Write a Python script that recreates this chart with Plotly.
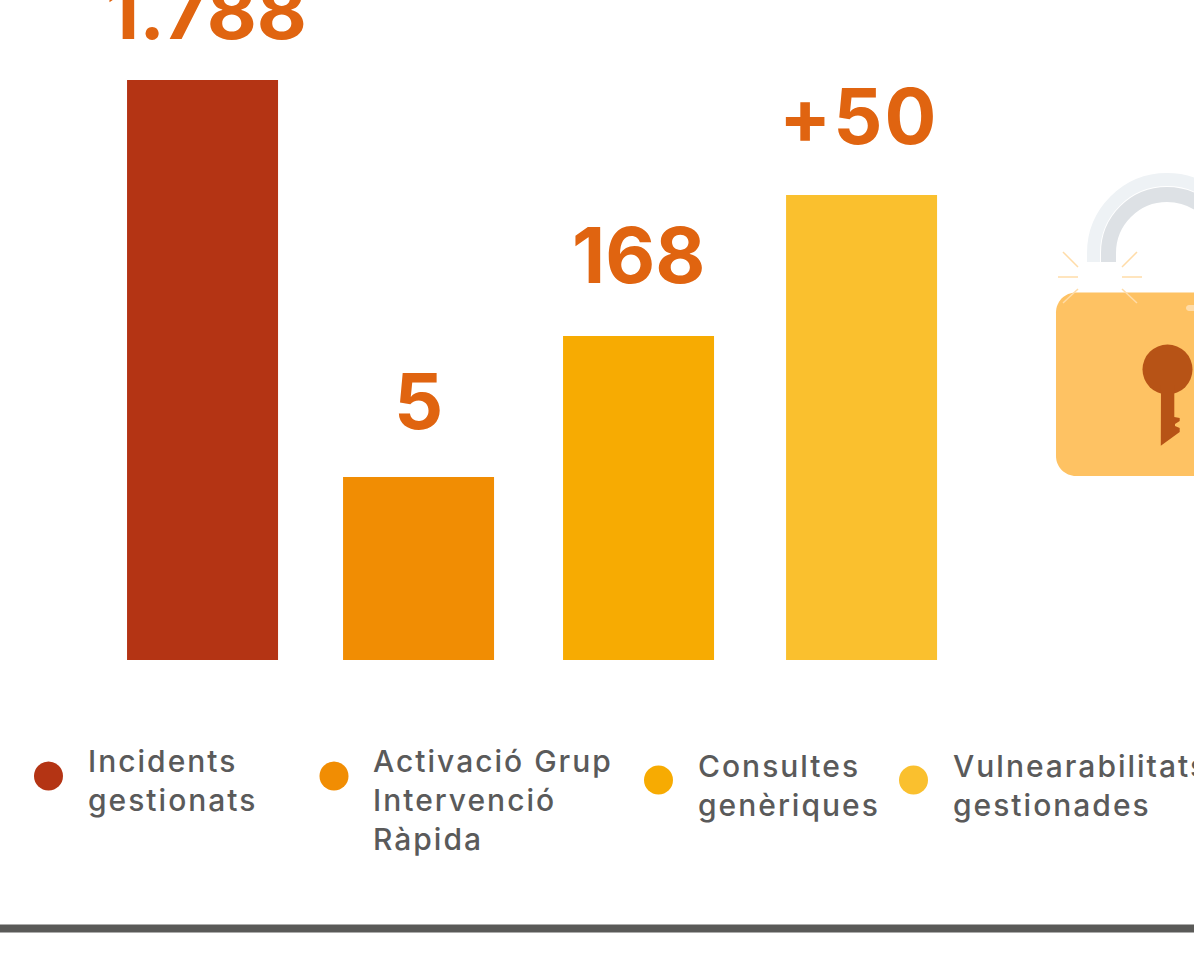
import plotly.graph_objects as go

# ---- data ----
categories = ["Incidents gestionats", "Activació Grup Intervenció Ràpida", "Consultes genèriques", "Vulnearabilitats gestionades"]
bar_heights = [580, 183, 324, 465]
value_labels = ["1.788", "5", "168", "+50"]
legend_labels = ["Incidents<br>gestionats", "Activació Grup<br>Intervenció<br>Ràpida", "Consultes<br>genèriques", "Vulnearabilitats<br>gestionades"]
bar_colors = ["#B43414", "#F18D03", "#F7AB02", "#FAC02E"]

W, H = 1194, 960
LABEL_COLOR = "#E06410"
TEXT_COLOR = "#5A5A5A"
FONT = "Inter"


def px(x):
    return x / W


def py(y):
    return 1 - y / H


def pt(x, y):
    return f"{px(x):.5f},{py(y):.5f}"


def path_shape(d, fill=None, line=None, width=0):
    s = dict(type="path", xref="paper", yref="paper", path=d, layer="above",
             line=dict(color=line or "rgba(0,0,0,0)", width=width))
    if fill:
        s["fillcolor"] = fill
    return s


def arch(cx, cy, r, bottom):
    k = 0.5523 * r
    return (f"M{pt(cx - r, bottom)} L{pt(cx - r, cy)} "
            f"C{pt(cx - r, cy - k)} {pt(cx - k, cy - r)} {pt(cx, cy - r)} "
            f"C{pt(cx + k, cy - r)} {pt(cx + r, cy - k)} {pt(cx + r, cy)} L{pt(cx + r, bottom)}")


def circle(cx, cy, r, color):
    return dict(type="circle", xref="paper", yref="paper", x0=px(cx - r), x1=px(cx + r),
                y0=py(cy + r), y1=py(cy - r), fillcolor=color, line=dict(width=0), layer="above")


def rrect(x0, y0, x1, y1, r):
    k = 0.4477 * r
    return (f"M{pt(x0 + r, y0)} L{pt(x1 - r, y0)} C{pt(x1 - k, y0)} {pt(x1, y0 + k)} {pt(x1, y0 + r)} "
            f"L{pt(x1, y1 - r)} C{pt(x1, y1 - k)} {pt(x1 - k, y1)} {pt(x1 - r, y1)} "
            f"L{pt(x0 + r, y1)} C{pt(x0 + k, y1)} {pt(x0, y1 - k)} {pt(x0, y1 - r)} "
            f"L{pt(x0, y0 + r)} C{pt(x0, y0 + k)} {pt(x0 + k, y0)} {pt(x0 + r, y0)} Z")


bar_width = 151 / 219.2
nudges = [0.005, -0.0096, -0.006, 0.0114]

fig = go.Figure(go.Bar(
    x=categories, y=bar_heights,
    marker=dict(color=bar_colors, line=dict(width=0)),
    width=bar_width,
    offset=[-bar_width / 2 + n for n in nudges],
    hoverinfo="x+y",
))

shapes = []
# lock shackle
shapes.append(path_shape(arch(1167, 253, 73.5, 262), line="#EEF2F5", width=13))
shapes.append(path_shape(arch(1167, 253, 58.5, 262), line="#DDE1E5", width=15))
# lock body
shapes.append(path_shape(rrect(1056, 292.5, 1320, 476, 20), fill="#FEC263"))
# sparks
for a, b, c, d in [(1063, 252, 1078, 267), (1137, 252, 1122, 267), (1058, 277, 1078, 277),
                   (1122, 277, 1142, 277), (1078, 289, 1063, 303), (1122, 289, 1137, 303)]:
    shapes.append(path_shape(f"M{pt(a, b)} L{pt(c, d)}", line="#FFDCA8", width=1.5))
# highlight
shapes.append(path_shape(rrect(1186, 305, 1230, 311, 3), fill="#FFDCA8"))
# keyhole
shapes.append(circle(1167.5, 369.5, 25, "#B75316"))
key = [(1161, 385), (1174.3, 385), (1174.3, 417), (1179.7, 418), (1179.7, 421), (1175, 424), (1175, 426),
       (1179.7, 428), (1179.7, 432), (1160.8, 445.7)]
shapes.append(path_shape("M" + " L".join(pt(*q) for q in key) + " Z", fill="#B75316"))
# legend dots
for (cx, cy), c in zip([(48.5, 776), (334, 776), (658.5, 780), (913.5, 780)], bar_colors):
    shapes.append(circle(cx, cy, 14.5, c))
# bottom rule
shapes.append(dict(type="rect", xref="paper", yref="paper", x0=0, x1=1, y0=py(932.5), y1=py(924.5),
                   fillcolor="#5A5A58", line=dict(width=0), layer="above"))

annotations = []
for cat, h, t, xs, ys in zip(categories, bar_heights, value_labels, [5, -2, -1, -1], [20, 27, 32, 30]):
    annotations.append(dict(x=cat, y=h, xref="x", yref="y", text=f"<b>{t}</b>", showarrow=False,
                            xanchor="center", yanchor="bottom", xshift=xs, yshift=ys,
                            font=dict(family=FONT, size=77, color=LABEL_COLOR)))
for t, x, y in zip(legend_labels, [86.5, 372.5, 696.5, 951.5], [742, 742, 747, 747]):
    annotations.append(dict(x=px(x), y=py(y), xref="paper", yref="paper", text=t, showarrow=False,
                            xanchor="left", yanchor="top", align="left", xshift=0,
                            borderpad=0, font=dict(family=FONT, size=30, weight=500, color=TEXT_COLOR)))

fig.update_layout(
    width=W, height=H, margin=dict(l=0, r=0, t=0, b=0),
    paper_bgcolor="white", plot_bgcolor="white", showlegend=False,
    xaxis=dict(visible=False, range=[-0.919, 4.528], domain=[0, 1]),
    yaxis=dict(visible=False, range=[-300, 660], domain=[0, 1]),
    shapes=shapes, annotations=annotations,
)
post = """
document.body.style.margin='0';
var st=document.createElement('style');
st.textContent='.annotation:nth-child(n+5) text{letter-spacing:2px}';
document.head.appendChild(st);
"""
fig.write_html("out.html", post_script=post, config=dict(displayModeBar=False))
